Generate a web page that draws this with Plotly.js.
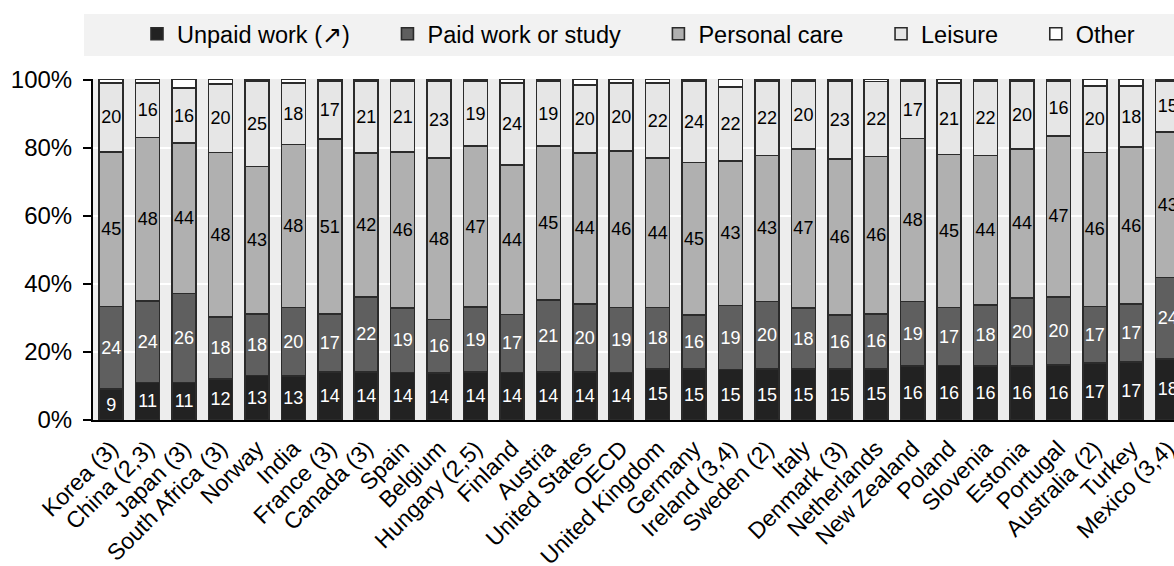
<!DOCTYPE html>
<html>
<head>
<meta charset="utf-8">
<script src="https://cdn.plot.ly/plotly-3.0.1.min.js"></script>
<style>html,body{margin:0;padding:0;background:#fff;}#chart{width:1174px;height:566px;}</style>
</head>
<body>
<div id="chart"></div>
<script>
const countries = ["Korea (3)","China (2,3)","Japan (3)","South Africa (3)","Norway","India","France (3)","Canada (3)","Spain","Belgium","Hungary (2,5)","Finland","Austria","United States","OECD","United Kingdom","Germany","Ireland (3,4)","Sweden (2)","Italy","Denmark (3)","Netherlands","New Zealand","Poland","Slovenia","Estonia","Portugal","Australia (2)","Turkey","Mexico (3,4)"];
const unpaidWork = [9,11,11,12,13,13,14,14,14,14,14,14,14,14,14,15,15,15,15,15,15,15,16,16,16,16,16,17,17,18];
const paidWork = [24,24,26,18,18,20,17,22,19,16,19,17,21,20,19,18,16,19,20,18,16,16,19,17,18,20,20,17,17,24];
const personalCare = [45,48,44,48,43,48,51,42,46,48,47,44,45,44,46,44,45,43,43,47,46,46,48,45,44,44,47,46,46,43];
const leisure = [20,16,16,20,25,18,17,21,21,23,19,24,19,20,20,22,24,22,22,20,23,22,17,21,22,20,16,20,18,15];
const other = [1,1,2.5,1.2,0.4,1,0.4,0.4,0.4,0.4,0.4,1,0.4,1.5,1,1,0.4,2.2,0.4,0.4,0.4,0.5,0.4,1,0.4,0.4,0.4,1.8,1.8,0.4];
const seriesNames = ["Unpaid work (\u2197)","Paid work or study","Personal care","Leisure","Other"];
const yTickVals = [0,20,40,60,80,100];

const fills = ["#222222","#5f5f5f","#b0b0b0","#e6e6e6","#ffffff"];
const txtColors = ["#ffffff","#ffffff","#000000","#000000","#000000"];
const allSeries = [unpaidWork, paidWork, personalCare, leisure, other];
const pad = "\u00a0\u00a0\u00a0\u00a0\u00a0";

const traces = allSeries.map((vals, i) => ({
  type: "bar",
  name: seriesNames[i] + (i < 4 ? pad : ""),
  x: countries,
  y: vals,
  text: i < 4 ? vals.map(String) : vals.map(() => ""),
  texttemplate: "%{text}",
  textposition: i < 4 ? "inside" : "none",
  textangle: 0,
  insidetextanchor: "middle",
  constraintext: "none",
  insidetextfont: {family: "Liberation Sans, Arial, sans-serif", size: 18, color: txtColors[i]},
  marker: {color: fills[i], line: {color: "#2b2b2b", width: 1.6}},
  hoverinfo: "skip"
}));

const mL = 93, W = 1174, H = 566, mT = 79, mB = 146;
const pw = W - mL, ph = H - mT - mB;
const layout = {
  width: W, height: H,
  margin: {l: mL, r: 0, t: mT, b: mB, pad: 0},
  paper_bgcolor: "#ffffff",
  plot_bgcolor: "#ededed",
  barmode: "stack",
  barnorm: "percent",
  bargap: 0.34,
  font: {family: "Liberation Sans, Arial, sans-serif", color: "#000000"},
  showlegend: true,
  legend: {
    orientation: "h", traceorder: "normal",
    x: (137 - mL) / pw, xanchor: "left",
    y: (H - mB - 34) / ph, yanchor: "middle",
    bgcolor: "rgba(0,0,0,0)",
    font: {size: 23.5, color: "#000000"},
    itemclick: false
  },
  xaxis: {
    type: "category",
    range: [-0.5, -0.5 + pw / 36.43],
    tickangle: -45,
    tickfont: {size: 23, color: "#000000"},
    ticklabelstandoff: 4,
    showline: true, linecolor: "#000000", linewidth: 2,
    ticks: "", showgrid: false, zeroline: false, fixedrange: true
  },
  yaxis: {
    range: [0, 100.2],
    tickvals: yTickVals,
    ticktext: yTickVals.map(v => v + "%"),
    tickfont: {size: 24, color: "#000000"},
    ticks: "outside", ticklen: 8, tickwidth: 2, tickcolor: "#000000",
    ticklabelstandoff: 6,
    showline: true, linecolor: "#000000", linewidth: 2,
    showgrid: true, gridcolor: "#ffffff", gridwidth: 2,
    zeroline: false, fixedrange: true
  },
  shapes: [{
    type: "rect", xref: "paper", yref: "paper", layer: "below",
    x0: (84 - mL) / pw, x1: 1.05,
    y0: (H - mB - 56) / ph, y1: (H - mB - 14) / ph,
    fillcolor: "#f2f2f2", line: {width: 0}
  }]
};

Plotly.newPlot("chart", traces, layout, {displayModeBar: false, staticPlot: true});
</script>
</body>
</html>
